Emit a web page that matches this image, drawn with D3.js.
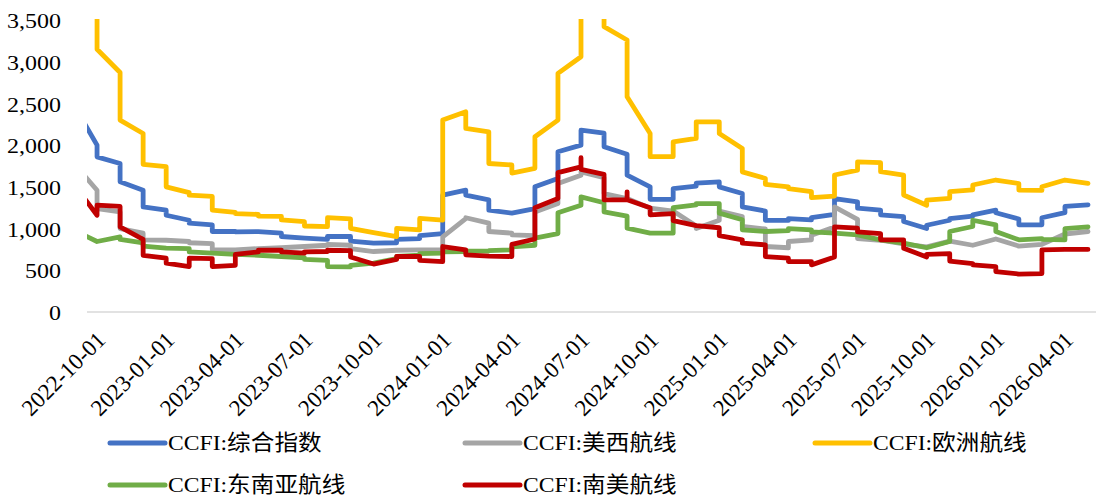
<!DOCTYPE html>
<html><head><meta charset="utf-8">
<script src="https://cdn.jsdelivr.net/npm/d3@7"></script>
<style>body{margin:0;background:#fff} svg{display:block}</style>
</head><body>
<svg id="c" width="1096" height="497"></svg>
<script>
const months = ["2022-09","2022-10","2022-11","2022-12","2023-01","2023-02","2023-03","2023-04","2023-05","2023-06","2023-07","2023-08","2023-09","2023-10","2023-11","2023-12","2024-01","2024-02","2024-03","2024-04","2024-05","2024-06","2024-07","2024-08","2024-09","2024-10","2024-11","2024-12","2025-01","2025-02","2025-03","2025-04","2025-05","2025-06","2025-07","2025-08","2025-09","2025-10","2025-11","2025-12","2026-01","2026-02","2026-03","2026-04","2026-05"];
const tickMonths = ["2022-10","2023-01","2023-04","2023-07","2023-10","2024-01","2024-04","2024-07","2024-10","2025-01","2025-04","2025-07","2025-10","2026-01","2026-04"];
const tickLabels = ["2022-10-01","2023-01-01","2023-04-01","2023-07-01","2023-10-01","2024-01-01","2024-04-01","2024-07-01","2024-10-01","2025-01-01","2025-04-01","2025-07-01","2025-10-01","2026-01-01","2026-04-01"];
const yTicks = [0,500,1000,1500,2000,2500,3000,3500];

// weekly values grouped by month (one inner list per month)
const composite = [[2480],[2000,1860],[1780,1560],[1460,1260],[1220,1160],[1100,1065],[1045,965],[965,960],[963],[945,905],[885],[870,905],[905,850],[825],[830,870],[880,915],[940,1400],[1460,1400],[1345,1220],[1185],[1240,1500],[1600,1920],[2000,2180],[2145,1980],[1890,1640],[1500,1350],[1350,1480],[1510,1545],[1560,1500],[1420,1260],[1210,1100],[1098,1120],[1105,1130],[1170,1360],[1320,1245],[1222,1165],[1142,1085],[1000,1040],[1100,1120],[1150,1165],[1220,1190],[1115,1045],[1045,1130],[1190,1265],[1285]];
const usWest = [[1780],[1460,1240],[1200,1000],[945,865],[860],[845,830],[820,745],[745],[760],[770],[785],[800,810],[800,760],[725],[740],[745],[745,900],[1120,1130],[1065,965],[945,925],[915,1200],[1300,1540],[1640,1680],[1610,1420],[1360],[1245],[1210],[1030,1000],[1100,1210],[1145,1025],[995,785],[770,845],[865,920],[1020,1260],[1110,880],[860],[815],[780],[850],[800],[875],[790],[810],[935],[965]];
const europe = [[3950],[3700,3400,3150],[2870,2300],[2140,1770],[1742,1500],[1430,1400],[1385,1222],[1195,1180],[1170,1150],[1145,1103],[1083,1031],[1023,1130],[1115,1003],[951],[903,1003],[985,1122],[1102,2300],[2400,2200],[2160,1780],[1762,1665],[1722,2100],[2300,2860],[3060,3500,3900,4100],[4200,4000,3700,3420],[3260,2580],[2140,1862],[1862,2040],[2080,2280],[2280,2140],[1960,1680],[1600,1530],[1500,1480],[1442,1370],[1390,1642],[1700,1800],[1790,1682],[1642,1402],[1280,1340],[1362,1442],[1465,1522],[1582],[1540,1462],[1458,1502],[1582],[1542]];
const seAsia = [[980],[845],[900,870],[830,790],[765],[760,720],[705],[690],[680],[665],[650,630],[620,545],[540,560],[585],[640,665],[680,700],[705,720],[725,730],[730,735],[745,780],[800,885],[940,1190],[1280,1380],[1310,1200],[1150,1005],[945],[945,1250],[1285,1300],[1300,1185],[1105,985],[965],[975,1000],[985,960],[945],[925],[865],[825],[770],[845,965],[1025,1100],[1045,965],[865],[880,870],[865,1000],[1020]];
const southAmerica = [[1530],[1160,1280],[1265,1020],[870,680],[645,585],[545,645],[640,545],[560,690],[720,740],[740,720],[705,720],[725,740],[735,660],[575],[630,665],[665,620],[605,785],[745,685],[670],[665,810],[875,1250],[1360,1670],[1740,1850,1710],[1650,1345],[1345,1440,1345],[1250,1165],[1180,1095],[1035],[1010,915],[865,825],[805,665],[645,605],[605,565],[660,1020],[1005,960],[940,865],[865,765],[660,690],[700,610],[580,565],[545,485],[455],[460,745],[750],[750]];

const seriesNames = ["CCFI:综合指数","CCFI:美西航线","CCFI:欧洲航线","CCFI:东南亚航线","CCFI:南美航线"];
const seriesColors = ["#4472C4","#A5A5A5","#FFC000","#70AD47","#C00000"];
const seriesData = [composite, usWest, europe, seAsia, southAmerica];

const FONT = '"Liberation Serif", "Noto Sans CJK SC", serif';
const svg = d3.select("#c");
const x = d3.scalePoint().domain(months).range([74, 1088]);
const y = d3.scaleLinear().domain([0, 3500]).range([312, 20]);

svg.append("clipPath").attr("id", "clip").append("rect")
  .attr("x", 87).attr("y", 19).attr("width", 1009).attr("height", 300);

// horizontal axis line
svg.append("line").attr("x1", 87).attr("x2", 1096).attr("y1", y(0)).attr("y2", y(0))
  .attr("stroke", "#D9D9D9").attr("stroke-width", 1.5);

// y axis labels
const yg = svg.append("g").attr("transform", "translate(61,0)")
  .call(d3.axisLeft(y).tickValues(yTicks).tickFormat(d3.format(",")).tickSize(0).tickPadding(0));
yg.select(".domain").remove();
yg.attr("font-family", FONT).attr("font-size", 22);
yg.selectAll("text").attr("fill", "#000").attr("x", null).attr("dy", null)
  .attr("dominant-baseline", "central").attr("transform", "scale(1.09,1)");

// x axis labels
const xg = svg.append("g").attr("transform", `translate(0,${y(0)})`)
  .call(d3.axisBottom(x).tickValues(tickMonths).tickFormat((d, i) => tickLabels[i]).tickSize(0));
xg.select(".domain").remove();
xg.attr("font-family", FONT).attr("font-size", 23);
xg.selectAll("text").attr("fill", "#000")
  .attr("x", 0).attr("y", 0).attr("dy", null)
  .attr("dominant-baseline", "central").attr("text-anchor", "end")
  .attr("transform", "translate(4,24) rotate(-45)");

// series lines
const plot = svg.append("g").attr("clip-path", "url(#clip)");
const line = d3.line().x(d => x(d.m)).y(d => y(d.v));
seriesData.forEach((s, i) => {
  const pts = s.flatMap((vals, j) => vals.map(v => ({ m: months[j], v })));
  plot.append("path").datum(pts).attr("d", line)
    .attr("fill", "none").attr("stroke", seriesColors[i]).attr("stroke-width", 4.8)
    .attr("stroke-linejoin", "round").attr("stroke-linecap", "round");
});

// legend
const legendPos = [[110, 443], [465, 443], [815, 443], [110, 485], [465, 485]];
const lg = svg.append("g").attr("font-family", FONT).attr("font-size", 22);
seriesNames.forEach((name, i) => {
  const [lx, ly] = legendPos[i];
  lg.append("line").attr("x1", lx).attr("x2", lx + 55).attr("y1", ly).attr("y2", ly)
    .attr("stroke", seriesColors[i]).attr("stroke-width", 5).attr("stroke-linecap", "round");
  lg.append("text").attr("transform", `translate(${lx + 58},${ly}) scale(1.075,1)`)
    .attr("dominant-baseline", "central").attr("fill", "#000").text(name);
});
</script>
</body></html>
